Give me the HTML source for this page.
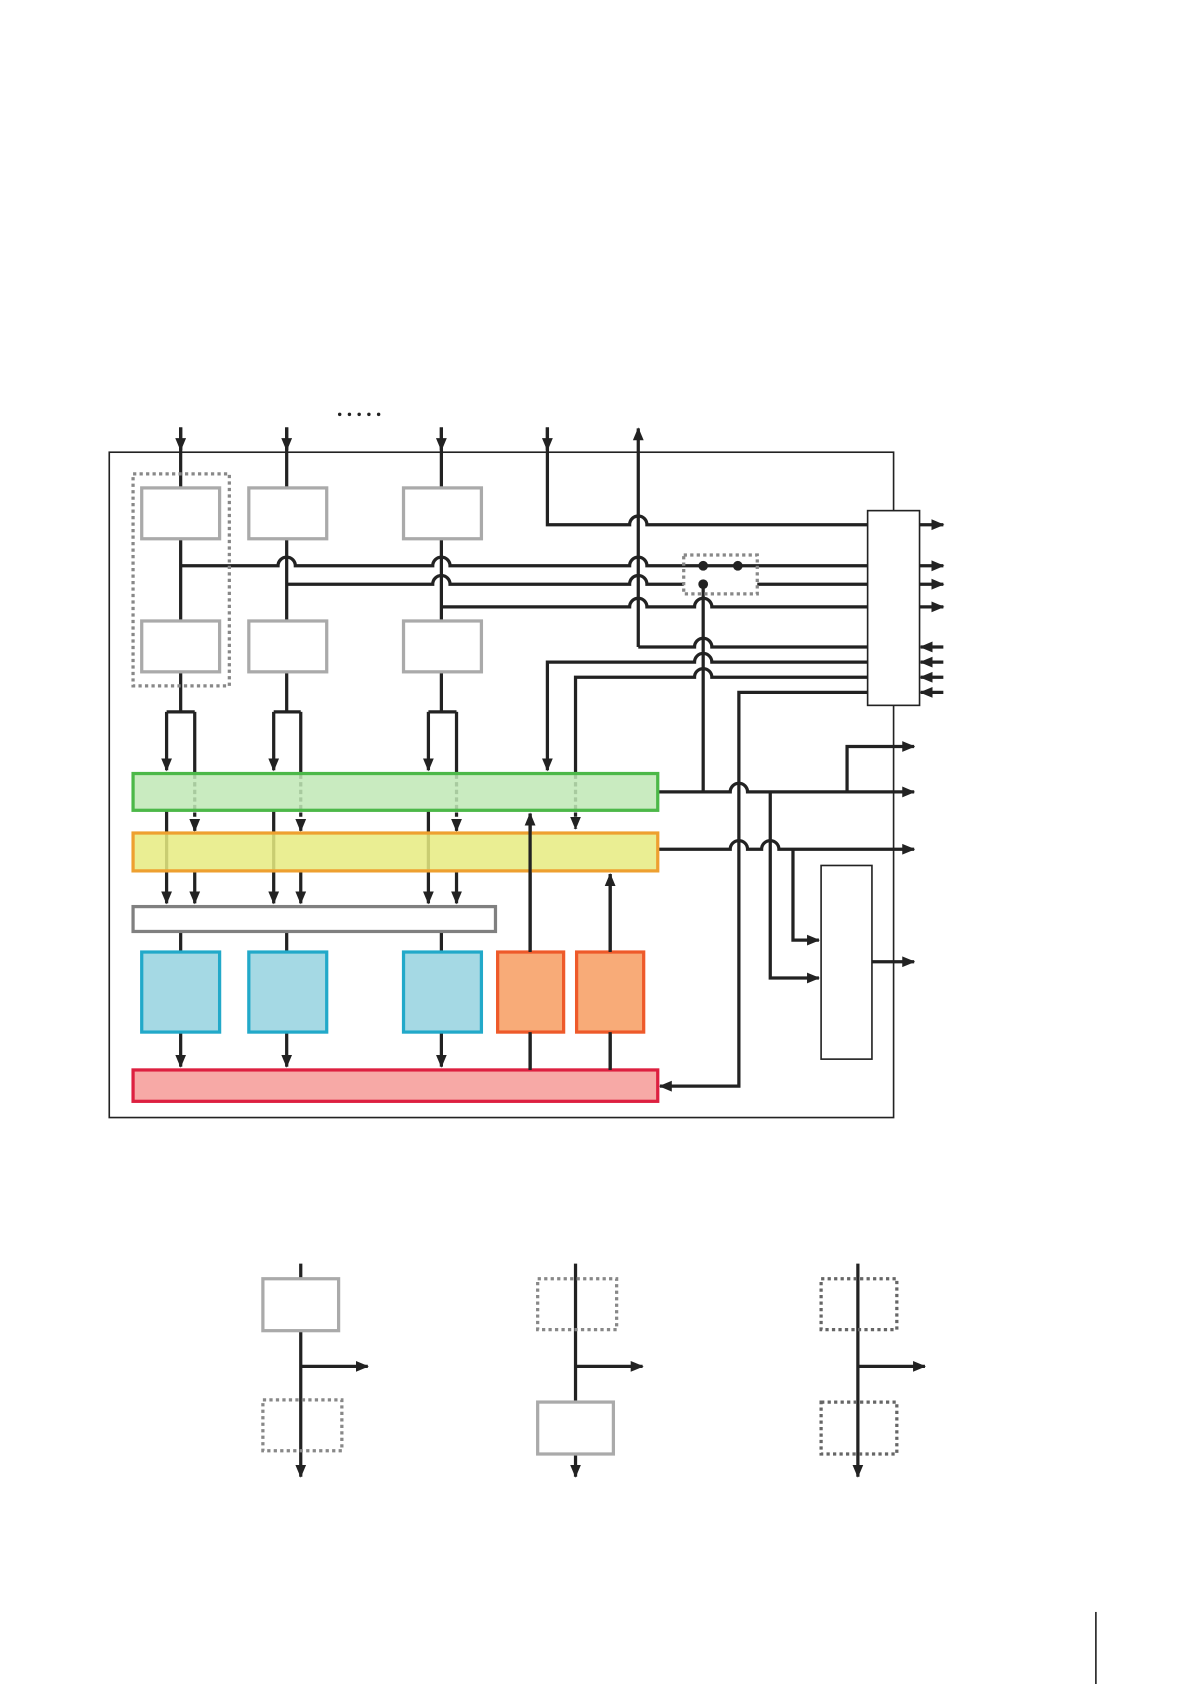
<!DOCTYPE html>
<html><head><meta charset="utf-8"><style>html,body{margin:0;padding:0;background:#fff}svg{display:block}</style></head>
<body>
<svg width="1190" height="1684" viewBox="0 0 1100 1556.6" preserveAspectRatio="none" xmlns="http://www.w3.org/2000/svg">
<defs>
<marker id="a" markerUnits="userSpaceOnUse" markerWidth="12" markerHeight="12" viewBox="0 0 12 12" refX="11" refY="6" orient="auto"><path d="M0,1 L12,6 L0,11 z" fill="#222"/></marker>
</defs>
<g fill="none" stroke="#222" stroke-width="3">
<!-- outer box -->
<rect x="101" y="418" width="725" height="615" stroke-width="1.5"/>
<!-- inputs -->
<path d="M167,395 V658" /><path d="M167,395 V416" marker-end="url(#a)"/>
<path d="M265,395 V658" /><path d="M265,395 V416" marker-end="url(#a)"/>
<path d="M408,395 V658" /><path d="M408,395 V416" marker-end="url(#a)"/>
<path d="M506,395 V485 H582 A8 8 0 0 1 598 485 H802"/><path d="M506,395 V416" marker-end="url(#a)"/>
<path d="M590,598 V396" marker-end="url(#a)"/>
<!-- horizontal buses -->
<path d="M167,523 H257 A8 8 0 0 1 273 523 H400 A8 8 0 0 1 416 523 H582 A8 8 0 0 1 598 523 H802"/>
<path d="M265,540 H400 A8 8 0 0 1 416 540 H582 A8 8 0 0 1 598 540 H632"/>
<path d="M700,540 H802"/>
<path d="M408,561 H582 A8 8 0 0 1 598 561 H642 A8 8 0 0 1 658 561 H802"/>
<path d="M590,598 H642 A8 8 0 0 1 658 598 H802"/>
<path d="M802,612 H658 A8 8 0 0 0 642 612 H506 V712" marker-end="url(#a)"/>
<path d="M802,626 H658 A8 8 0 0 0 642 626 H532 V716"/>
<path d="M532,716 V766" stroke-dasharray="4 3" marker-end="url(#a)"/>
<path d="M802,640 H683 V1004 H610" marker-end="url(#a)"/>
<path d="M650,540 V732"/>
<!-- right box outputs -->
<path d="M850,485 H872" marker-end="url(#a)"/>
<path d="M850,523 H872" marker-end="url(#a)"/>
<path d="M850,540 H872" marker-end="url(#a)"/>
<path d="M850,561 H872" marker-end="url(#a)"/>
<path d="M872,598 H851" marker-end="url(#a)"/>
<path d="M872,612 H851" marker-end="url(#a)"/>
<path d="M872,626 H851" marker-end="url(#a)"/>
<path d="M872,640 H851" marker-end="url(#a)"/>
<!-- green/yellow outputs -->
<path d="M608,732 H675 A8 8 0 0 1 691 732 H845" marker-end="url(#a)"/>
<path d="M783,732 V690 H845" marker-end="url(#a)"/>
<path d="M712,732 V904 H757" marker-end="url(#a)"/>
<path d="M608,785 H675 A8 8 0 0 1 691 785 H704 A8 8 0 0 1 720 785 H845" marker-end="url(#a)"/>
<path d="M733,785 V869 H757" marker-end="url(#a)"/>
<path d="M806,889 H845" marker-end="url(#a)"/>
<!-- splits -->
<path d="M154,658 H180 M154,658 V712" marker-end="url(#a)"/>
<path d="M180,658 V716"/><path d="M180,716 V768" stroke-dasharray="4 3" marker-end="url(#a)"/>
<path d="M154,749 V835" marker-end="url(#a)"/><path d="M180,805 V835" marker-end="url(#a)"/>
<path d="M253,658 H278 M253,658 V712" marker-end="url(#a)"/>
<path d="M278,658 V716"/><path d="M278,716 V768" stroke-dasharray="4 3" marker-end="url(#a)"/>
<path d="M253,749 V835" marker-end="url(#a)"/><path d="M278,805 V835" marker-end="url(#a)"/>
<path d="M396,658 H422 M396,658 V712" marker-end="url(#a)"/>
<path d="M422,658 V716"/><path d="M422,716 V768" stroke-dasharray="4 3" marker-end="url(#a)"/>
<path d="M396,749 V835" marker-end="url(#a)"/><path d="M422,805 V835" marker-end="url(#a)"/>
<path d="M167,861 V880 M265,861 V880 M408,861 V880"/>
<path d="M167,954 V986" marker-end="url(#a)"/>
<path d="M265,954 V986" marker-end="url(#a)"/>
<path d="M408,954 V986" marker-end="url(#a)"/>
<path d="M490,989 V752" marker-end="url(#a)"/>
<path d="M564,989 V808" marker-end="url(#a)"/>
</g>
<!-- boxes -->
<g stroke-width="3">
<rect x="131" y="451" width="72" height="47" fill="#fff" stroke="#aaa"/>
<rect x="230" y="451" width="72" height="47" fill="#fff" stroke="#aaa"/>
<rect x="373" y="451" width="72" height="47" fill="#fff" stroke="#aaa"/>
<rect x="131" y="574" width="72" height="47" fill="#fff" stroke="#aaa"/>
<rect x="230" y="574" width="72" height="47" fill="#fff" stroke="#aaa"/>
<rect x="373" y="574" width="72" height="47" fill="#fff" stroke="#aaa"/>
<rect x="123" y="438" width="89" height="196" fill="none" stroke="#888" stroke-dasharray="3 3"/>
<rect x="632" y="513" width="68" height="36" fill="none" stroke="#888" stroke-dasharray="3 3"/>
<rect x="802" y="472" width="48" height="180" fill="#fff" stroke="#222" stroke-width="1.5"/>
<rect x="123" y="715" width="485" height="34" fill="#bfe8b5" fill-opacity="0.85" stroke="#4cb848"/>
<rect x="123" y="770" width="485" height="35" fill="#e6eb80" fill-opacity="0.85" stroke="#eea030"/>
<rect x="123" y="838" width="335" height="23" fill="#fff" stroke="#808080"/>
<rect x="131" y="880" width="72" height="74" fill="#a5d9e4" stroke="#22a9c9"/>
<rect x="230" y="880" width="72" height="74" fill="#a5d9e4" stroke="#22a9c9"/>
<rect x="373" y="880" width="72" height="74" fill="#a5d9e4" stroke="#22a9c9"/>
<rect x="460" y="880" width="61" height="74" fill="#f8ab78" stroke="#ee5a2a"/>
<rect x="533" y="880" width="62" height="74" fill="#f8ab78" stroke="#ee5a2a"/>
<rect x="123" y="989" width="485" height="29" fill="#f7a9a6" stroke="#dd2040"/>
<rect x="759" y="800" width="47" height="179" fill="#fff" stroke="#222" stroke-width="1.5"/>
</g>
<path d="M490,954 V989 M564,954 V989" stroke="#222" stroke-width="3"/>
<path d="M490,880 V752 M564,880 V808" stroke="#222" stroke-width="3"/>
<g fill="#222"><circle cx="650" cy="523" r="4.5"/><circle cx="682" cy="523" r="4.5"/><circle cx="650" cy="540" r="4.5"/>
<circle cx="314" cy="383" r="1.6"/><circle cx="323" cy="383" r="1.6"/><circle cx="332" cy="383" r="1.6"/><circle cx="341" cy="383" r="1.6"/><circle cx="350" cy="383" r="1.6"/></g>
<!-- legend -->
<g fill="none" stroke-width="3">
<path d="M278,1168 V1365" stroke="#222" marker-end="url(#a)"/>
<path d="M278,1263 H340" stroke="#222" marker-end="url(#a)"/>
<rect x="243" y="1182" width="70" height="48" fill="#fff" stroke="#aaa"/>
<rect x="243" y="1294" width="73" height="47" stroke="#888" stroke-dasharray="3 3"/>
<path d="M532,1168 V1365" stroke="#222" marker-end="url(#a)"/>
<path d="M532,1263 H594" stroke="#222" marker-end="url(#a)"/>
<rect x="497" y="1182" width="73" height="47" stroke="#888" stroke-dasharray="3 3"/>
<rect x="497" y="1296" width="70" height="48" fill="#fff" stroke="#aaa"/>
<path d="M793,1168 V1365" stroke="#222" marker-end="url(#a)"/>
<path d="M793,1263 H855" stroke="#222" marker-end="url(#a)"/>
<rect x="759" y="1182" width="70" height="47" stroke="#666" stroke-dasharray="3 3"/>
<rect x="759" y="1296" width="70" height="48" stroke="#666" stroke-dasharray="3 3"/>
<path d="M1013,1490 V1567" stroke="#222" stroke-width="1.5"/>
</g>
</svg>
</body></html>
